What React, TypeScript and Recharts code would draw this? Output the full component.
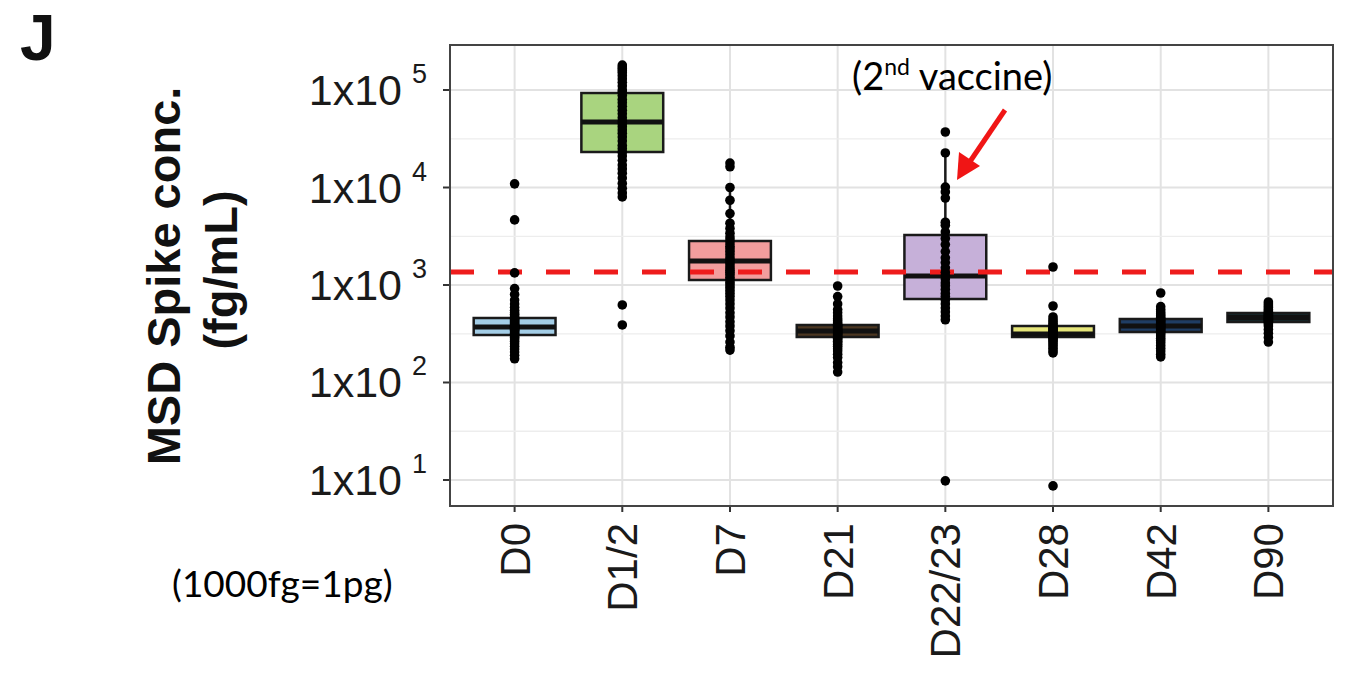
import React from "react";
import {
  CartesianGrid,
  ComposedChart,
  ReferenceArea,
  ReferenceLine,
  Scatter,
  XAxis,
  YAxis,
} from "recharts";

const days = ["D0", "D1/2", "D7", "D21", "D22/23", "D28", "D42", "D90"];
const boxFill = ["#a3cde6", "#a9d47f", "#f29d9d", "#4b3621", "#c6b0d9", "#e6e67a", "#1f3d63", "#14292b"];

// box stats (fg/mL)
const q1 = [307, 23100, 1125, 293, 718, 293, 330, 418];
const median = [371, 47000, 1763, 337, 1236, 314, 380, 465];
const q3 = [459, 93000, 2830, 389, 3260, 380, 448, 516];
const whiskerLo = [175, 8000, 300, 195, 440, 201, 210, 320];
const whiskerHi = [800, 180000, 10000, 560, 22600, 470, 600, 670];

const pointsD0 = [10900, 4650, 1330, 920, 800, 700, 640, 590, 550, 520, 500, 480, 460, 450, 440, 430, 420, 410, 400, 390, 385, 380, 375, 370, 365, 360, 350, 345, 340, 330, 320, 310, 300, 290, 280, 265, 250, 235, 220, 205, 190, 175];
const pointsD12 = [180000, 172000, 165000, 158000, 150000, 140000, 130000, 120000, 110000, 100000, 95000, 88000, 80000, 74000, 68000, 62000, 57000, 52000, 48000, 45000, 42000, 39000, 36000, 33000, 30000, 27000, 25000, 23000, 21000, 19000, 17000, 15500, 14000, 12500, 11000, 9800, 8800, 8000, 624, 389];
const pointsD7 = [17800, 16300, 10000, 7400, 5400, 4300, 3800, 3400, 3100, 2900, 2700, 2500, 2350, 2200, 2050, 1900, 1800, 1700, 1600, 1500, 1420, 1350, 1280, 1200, 1130, 1060, 1000, 940, 880, 820, 760, 700, 640, 580, 520, 470, 420, 380, 340, 300, 260, 230, 215];
const pointsD21 = [977, 760, 640, 560, 520, 480, 450, 430, 410, 395, 385, 375, 365, 355, 345, 338, 330, 322, 315, 308, 300, 292, 285, 275, 265, 255, 245, 235, 222, 210, 195, 180, 160, 145, 128];
const pointsD2223 = [37100, 22600, 10100, 9000, 7800, 4400, 4100, 3500, 3000, 2600, 2200, 1900, 1700, 1500, 1350, 1250, 1150, 1050, 980, 900, 820, 760, 700, 640, 580, 530, 480, 440, 9.8];
const pointsD28 = [1530, 609, 470, 440, 420, 400, 385, 370, 360, 350, 340, 330, 322, 314, 306, 298, 290, 282, 272, 262, 250, 238, 225, 212, 201, 8.7];
const pointsD42 = [828, 600, 560, 530, 505, 485, 465, 450, 435, 420, 408, 395, 385, 375, 365, 355, 345, 335, 325, 315, 300, 285, 270, 255, 240, 225, 210, 195, 183];
const pointsD90 = [670, 640, 610, 585, 560, 540, 525, 510, 498, 486, 475, 465, 455, 445, 435, 425, 412, 398, 380, 350, 320, 290, 260];

const threshold = 1360;

const yTicks = [10, 100, 1000, 10000, 100000];
const yTickExp = ["1", "2", "3", "4", "5"];
const yMinor = [31.6, 316, 3160, 31600];
const yDomain: [number, number] = [5.41, 289500];
const xDomain: [number, number] = [-0.6, 7.6];
const xTicks = days.map((_, i) => i);

const BOX_HALF = 0.38;

const allPoints = [pointsD0, pointsD12, pointsD7, pointsD21, pointsD2223, pointsD28, pointsD42, pointsD90].flatMap(
  (vals, i) => vals.map((v) => ({ x: i, y: v }))
);

const FONT = "'Liberation Sans', Arial, Helvetica, sans-serif";

function YTick(props: any) {
  const { x, y, payload } = props;
  const i = yTicks.indexOf(payload.value);
  return (
    <text x={x} y={y + 15} textAnchor="end" fontSize={43} fill="#1a1a1a" fontFamily={FONT}>
      1x10
      <tspan dx={10} dy={-22} fontSize={27}>
        {yTickExp[i]}
      </tspan>
    </text>
  );
}

function XTick(props: any) {
  const { x, y, payload } = props;
  return (
    <text
      transform={`rotate(-90 ${x} ${y})`}
      x={x}
      y={y}
      dy={15}
      textAnchor="end"
      fontSize={42}
      fill="#1a1a1a"
      fontFamily={FONT}
    >
      {days[payload.value]}
    </text>
  );
}

const dot = (p: any) => <circle cx={p.cx} cy={p.cy} r={4.8} fill="#000" />;

export default function App() {
  return (
    <div style={{ position: "absolute", left: 0, top: 0, width: 1350, height: 678, background: "#fff" }}>
      <ComposedChart width={1350} height={678} margin={{ top: 45, right: 17, bottom: 0, left: 0 }}>
        <CartesianGrid stroke="#e2e2e2" strokeWidth={2} />
        <CartesianGrid vertical={false} horizontalValues={yMinor} stroke="#ededed" strokeWidth={1.3} />
        <XAxis
          type="number"
          dataKey="x"
          domain={xDomain}
          ticks={xTicks}
          interval={0}
          allowDataOverflow
          height={172}
          axisLine={false}
          tickSize={6}
          tickMargin={11}
          tickLine={{ stroke: "#333", strokeWidth: 2 }}
          tick={<XTick />}
        />
        <YAxis
          type="number"
          dataKey="y"
          scale="log"
          domain={yDomain}
          ticks={yTicks}
          interval={0}
          allowDataOverflow
          width={450}
          axisLine={false}
          tickSize={7}
          tickMargin={16}
          tickLine={{ stroke: "#333", strokeWidth: 2 }}
          tick={<YTick />}
        />
        {days.map((d, i) => (
          <ReferenceArea
            key={`box-${d}`}
            x1={i - BOX_HALF}
            x2={i + BOX_HALF}
            y1={q1[i]}
            y2={q3[i]}
            fill={boxFill[i]}
            fillOpacity={1}
            stroke="#1a1a1a"
            strokeWidth={2.5}
            ifOverflow="visible"
            zIndex={200}
          />
        ))}
        {days.map((d, i) => (
          <ReferenceLine
            key={`wl-${d}`}
            segment={[
              { x: i, y: whiskerLo[i] },
              { x: i, y: q1[i] },
            ]}
            stroke="#1a1a1a"
            strokeWidth={2.5}
            ifOverflow="visible"
            zIndex={250}
          />
        ))}
        {days.map((d, i) => (
          <ReferenceLine
            key={`wh-${d}`}
            segment={[
              { x: i, y: q3[i] },
              { x: i, y: whiskerHi[i] },
            ]}
            stroke="#1a1a1a"
            strokeWidth={2.5}
            ifOverflow="visible"
            zIndex={250}
          />
        ))}
        {days.map((d, i) => (
          <ReferenceLine
            key={`med-${d}`}
            segment={[
              { x: i - BOX_HALF, y: median[i] },
              { x: i + BOX_HALF, y: median[i] },
            ]}
            stroke="#111"
            strokeWidth={5}
            ifOverflow="visible"
            zIndex={300}
          />
        ))}
        <ReferenceLine
          y={threshold}
          stroke="#ee1c1c"
          strokeWidth={5}
          strokeDasharray="24 24"
          zIndex={350}
        />
        <Scatter data={allPoints} dataKey="y" shape={dot} isAnimationActive={false} zIndex={600} />
        <ReferenceArea
          x1={xDomain[0]}
          x2={xDomain[1]}
          y1={yDomain[0]}
          y2={yDomain[1]}
          fill="none"
          stroke="#444"
          strokeWidth={2}
          ifOverflow="visible"
          zIndex={700}
        />
      </ComposedChart>
      <svg
        width={1350}
        height={678}
        style={{ position: "absolute", left: 0, top: 0, pointerEvents: "none" }}
      >
        <text x={20} y={60} fontSize={64} fontWeight="bold" fontFamily={FONT} fill="#111">
          J
        </text>
        <text
          transform="translate(180 276) rotate(-90)"
          textAnchor="middle"
          fontSize={47}
          fontWeight="bold"
          fontFamily={FONT}
          fill="#111"
        >
          MSD Spike conc.
        </text>
        <text
          transform="translate(237 270) rotate(-90)"
          textAnchor="middle"
          fontSize={47}
          fontWeight="bold"
          fontFamily={FONT}
          fill="#111"
        >
          (fg/mL)
        </text>
        <text x={172} y={597} fontSize={37} fontFamily="Lato, 'Open Sans', sans-serif" fill="#000">
          (1000fg=1pg)
        </text>
        <text x={852} y={90} fontSize={38} fontFamily="Lato, 'Open Sans', sans-serif" fill="#000">
          (2
          <tspan fontSize={23} dy={-15}>
            nd
          </tspan>
          <tspan dy={15}> vaccine)</tspan>
        </text>
        <line x1={1005} y1={110} x2={969} y2={163} stroke="#f01515" strokeWidth={5} />
        <polygon points="957,180 959,152 980,166" fill="#f01515" />
      </svg>
    </div>
  );
}
